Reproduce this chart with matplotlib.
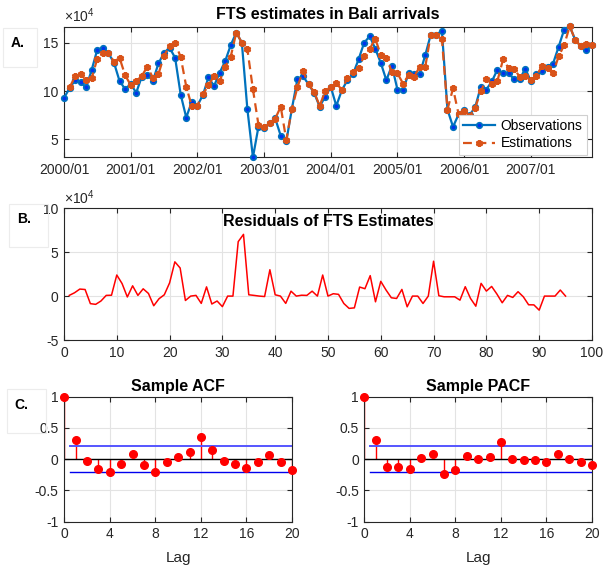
import numpy as np
import matplotlib.pyplot as plt
from matplotlib.patches import Rectangle

plt.rcParams['font.family'] = ['Liberation Sans', 'DejaVu Sans']
plt.rcParams['axes.unicode_minus'] = False
plt.rcParams['mathtext.fontset'] = 'custom'
plt.rcParams['mathtext.rm'] = 'Liberation Sans'

# Bali arrivals (x 10^4), monthly 2000/01 .. 2007/12
observations = [9.29, 10.30, 11.14, 10.93, 10.38, 12.24, 14.31, 14.48, 13.92, 12.94,
                11.05, 10.22, 10.74, 9.84, 11.50, 11.70, 11.08, 12.87, 13.97, 14.50,
                13.45, 9.64, 7.27, 8.92, 8.50, 9.60, 11.43, 10.53, 11.90, 13.10,
                14.76, 16.07, 15.03, 8.13, 3.15, 6.34, 6.17, 6.68, 7.20, 5.38,
                4.80, 8.16, 11.22, 11.56, 10.70, 9.84, 8.40, 9.43, 10.45, 8.48,
                10.10, 11.14, 11.76, 13.28, 15.00, 15.69, 14.41, 12.93, 11.14, 12.62,
                10.17, 10.10, 11.83, 11.76, 11.76, 13.72, 15.86, 15.86, 16.24, 8.10,
                6.31, 7.59, 8.03, 7.52, 8.38, 10.45, 10.17, 11.03, 12.24, 11.83,
                11.83, 11.24, 11.24, 12.34, 11.03, 11.76, 12.07, 12.52, 12.86, 14.59,
                16.38, 16.72, 15.28, 14.66, 14.24, 14.76]

# FTS estimations (x 10^4), from 2000/02
estimations = [10.38, 11.52, 11.73, 11.13, 11.38, 13.37, 13.92, 14.00, 13.04,
               13.45, 11.65, 10.64, 11.01, 11.58, 12.53, 11.38, 11.77, 13.67, 14.65,
               14.95, 13.54, 10.47, 8.42, 8.50, 9.68, 10.60, 11.58, 11.00, 12.54,
               13.56, 16.07, 15.03, 14.33, 10.18, 6.49, 6.25, 6.68, 7.15, 8.38,
               4.95, 8.16, 10.39, 12.12, 10.70, 9.94, 8.48, 9.99, 10.45, 10.88,
               10.10, 11.41, 11.96, 12.44, 13.60, 14.35, 15.44, 13.77, 13.47, 11.97,
               11.85, 10.79, 11.64, 11.49, 12.52, 12.50, 15.86, 15.86, 15.40, 8.10,
               10.28, 7.63, 7.95, 7.44, 8.30, 9.99, 11.24, 10.76, 11.09, 13.28,
               12.40, 12.34, 11.47, 11.58, 11.11, 11.61, 12.57, 12.44, 11.87, 13.59,
               14.78, 16.72, 15.28, 14.66, 14.93, 14.76]

# residuals (x 10^4), points 1..95
residuals = [0.08, 0.38, 0.80, 0.75, -0.86, -0.94, -0.56, 0.08, 0.10, 2.40,
             1.43, -0.10, 1.17, 0.08, 0.83, 0.30, -1.10, -0.30, 0.15, 1.50,
             3.90, 3.20, -0.50, 0.00, 0.08, -0.83, 1.05, -0.90, -0.56, -1.20,
             0.00, 0.00, 6.20, 7.03, 0.15, 0.08, 0.00, -0.05, 3.00, 0.15,
             0.00, -0.83, 0.56, 0.00, 0.10, 0.08, 0.56, 0.00, 2.40, 0.00,
             0.27, 0.20, -0.84, -1.40, -1.34, 1.03, 0.84, 2.33, -0.65, 1.68,
             0.69, -0.19, -0.27, 0.76, -1.22, 0.00, 0.00, -0.84, 0.00, 3.97,
             0.04, -0.08, -0.08, -0.08, -0.46, 1.07, -0.27, -1.15, 1.45, 0.57,
             1.10, 0.23, -0.76, 0.08, -0.15, 0.50, -0.08, -0.99, -1.00, -1.60,
             0.00, 0.00, 0.00, 0.69, 0.00]

acf = [1.0, 0.31, -0.03, -0.15, -0.21, -0.08, 0.08, -0.10, -0.20, -0.05, 0.03,
       0.12, 0.35, 0.15, -0.03, -0.07, -0.14, -0.05, 0.07, -0.04, -0.18]
pacf = [1.0, 0.31, -0.13, -0.12, -0.15, 0.02, 0.08, -0.23, -0.18, 0.05, 0.01,
        0.03, 0.28, 0.01, -0.01, -0.02, -0.04, 0.08, 0.01, -0.04, -0.10]
conf_bound = 0.205

year_labels = ['2000/01', '2001/01', '2002/01', '2003/01', '2004/01',
               '2005/01', '2006/01', '2007/01']

dark = '#262626'
gridc = '#e3e3e3'


def style(ax):
    for s in ax.spines.values():
        s.set_color(dark)
        s.set_linewidth(0.8)
    ax.tick_params(direction='in', length=3.5, width=0.8, colors=dark,
                   labelsize=10, top=True, right=True, pad=4)
    ax.grid(True, color=gridc, linewidth=0.8)
    ax.set_axisbelow(True)


fig = plt.figure(figsize=(6.03, 5.70), dpi=100)

# ---- A. observations vs estimations
axA = fig.add_axes([0.1061, 0.7240, 0.8756, 0.2291])
style(axA)
t_obs = np.arange(len(observations))
t_est = np.arange(1, len(estimations) + 1)
axA.plot(t_obs, observations, '-o', color='#0072BD', lw=1.6, ms=4,
         mfc='#0033ee', mec='#0072BD', mew=1.2, label='Observations',
         clip_on=False, zorder=3)
axA.plot(t_est, estimations, '--', color='#D95319', lw=1.6, marker=(6, 2, 0),
         ms=5, mew=1.8, dashes=(4, 2.5), label='Estimations',
         clip_on=False, zorder=4)
axA.set_xlim(0, 95)
axA.set_ylim(min(observations), max(max(observations), max(estimations)) - 0.05)
axA.set_xticks(np.arange(0, 96, 12))
axA.set_xticklabels(year_labels)
axA.set_yticks([5, 10, 15])
axA.text(0.5, 1.09, 'FTS estimates in Bali arrivals', transform=axA.transAxes,
         ha='center', va='center', fontsize=11.5, fontweight='bold')
axA.text(0.0, 1.01, r'$\times10^4$', transform=axA.transAxes, ha='left',
         va='bottom', fontsize=10, color=dark)
leg = axA.legend(loc='lower right', bbox_to_anchor=(0.995, 0.0), fontsize=10,
                 handlelength=2.3, borderpad=0.3, labelspacing=0.25,
                 handletextpad=0.4, fancybox=False, framealpha=1,
                 edgecolor='#d0d0d0', borderaxespad=0.2)
leg.get_frame().set_linewidth(0.8)
leg.set_zorder(10)

# ---- B. residuals
axB = fig.add_axes([0.1061, 0.4035, 0.8756, 0.2311])
style(axB)
axB.plot(np.arange(1, len(residuals) + 1), residuals, color='red', lw=1.1)
axB.set_xlim(0, 100)
axB.set_ylim(-5, 10)
axB.set_xticks(np.arange(0, 101, 10))
axB.set_yticks([-5, 0, 5, 10])
axB.text(0.5, 0.898, 'Residuals of FTS Estimates', transform=axB.transAxes,
         ha='center', va='center', fontsize=11.5, fontweight='bold')
axB.text(0.0, 1.01, r'$\times10^4$', transform=axB.transAxes, ha='left',
         va='bottom', fontsize=10, color=dark)

# ---- C. ACF / PACF
def corr_plot(rect, vals, title):
    ax = fig.add_axes(rect)
    style(ax)
    lags = np.arange(len(vals))
    ax.vlines(lags, 0, vals, color='red', lw=1.0)
    ax.plot(lags, vals, 'o', color='red', ms=5.5, clip_on=False, zorder=4)
    ax.plot([0, 20], [0, 0], color='black', lw=1.0)
    ax.plot([0.5, 20], [conf_bound, conf_bound], color='#5555ff', lw=1.4)
    ax.plot([0.5, 20], [-conf_bound, -conf_bound], color='#0000ee', lw=1.0)
    ax.set_xlim(0, 20)
    ax.set_ylim(-1, 1)
    ax.set_xticks(np.arange(0, 21, 4))
    ax.set_yticks([-1, -0.5, 0, 0.5, 1])
    ax.set_yticklabels(['-1', '-0.5', '0', '0.5', '1'])
    ax.text(0.5, 1.08, title, transform=ax.transAxes, ha='center',
            va='center', fontsize=11.5, fontweight='bold')
    ax.text(0.5, -0.29, 'Lag', transform=ax.transAxes, ha='center',
            va='center', fontsize=11, color=dark)
    return ax


corr_plot([0.1066, 0.0847, 0.3776, 0.2193], acf, 'Sample ACF')
corr_plot([0.6042, 0.0847, 0.3776, 0.2193], pacf, 'Sample PACF')

# ---- panel letters in boxes
W, H = 603.0, 570.0
for letter, (x0, x1, y0, y1), (tx, ty) in [
        ('A.', (3.3, 37.3, 28.3, 66.7), (18, 43)),
        ('B.', (9.3, 48.3, 204, 246.7), (24, 219.3)),
        ('C.', (7.3, 46, 389, 432.7), (21.7, 405))]:
    fig.patches.append(Rectangle((x0 / W, 1 - y1 / H), (x1 - x0) / W,
                                 (y1 - y0) / H, transform=fig.transFigure,
                                 fill=False, edgecolor='#ececec', lw=0.8))
    fig.text(tx / W, 1 - ty / H, letter, ha='center', va='center',
             fontsize=10, fontweight='bold')

fig.savefig('out.png', dpi=100)
